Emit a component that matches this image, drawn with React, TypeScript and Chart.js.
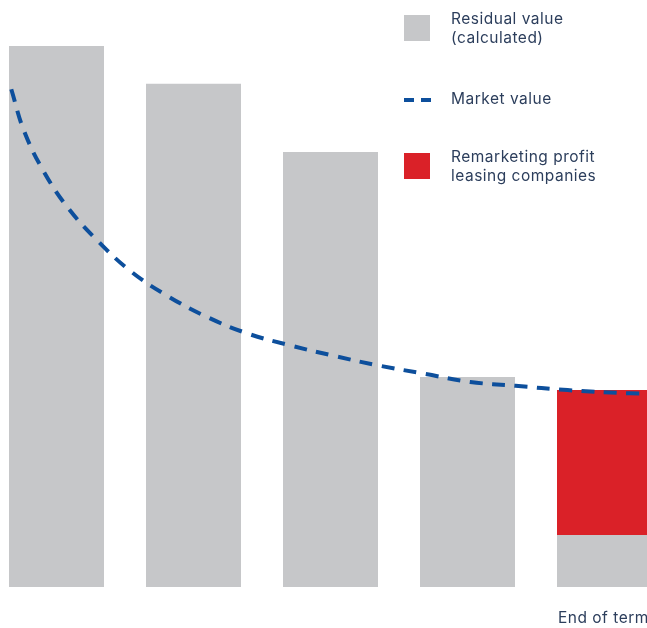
import React, { useEffect, useRef } from "react";
import { Chart, registerables } from "chart.js";

Chart.register(...registerables);

const categories = ["1", "2", "3", "4", "End of term"];
const residualValues = [100, 93.0, 80.4, 38.8, 9.6];
const remarketingProfit = [0, 0, 0, 0, 26.8];
const marketX = [-0.33, -0.24, -0.1, 0.08, 0.3, 0.54, 0.81, 1.1, 1.39, 1.7, 2.03, 2.36, 2.69, 3.02, 3.35, 3.73, 4.19, 4.45];
const marketY = [92.0, 84.5, 77.1, 70.2, 64.0, 58.4, 53.8, 49.9, 46.9, 44.7, 42.7, 40.9, 39.4, 37.9, 37.2, 36.4, 35.8, 35.8];

const GRAY = "#c6c7c9";
const RED = "#da2128";
const BLUE = "#0d4f9c";
const TEXT = "#2c3e5c";
const FONT = "Inter, 'Open Sans', sans-serif";

export default function App() {
  const ref = useRef<HTMLCanvasElement | null>(null);

  useEffect(() => {
    if (!ref.current) return;
    const chart = new Chart(ref.current, {
      type: "bar",
      data: {
        labels: categories,
        datasets: [
          {
            type: "line",
            label: "Market value",
            data: marketX.map((x, i) => ({ x, y: marketY[i] })),
            xAxisID: "x2",
            yAxisID: "y",
            borderColor: BLUE,
            borderWidth: 4,
            borderDash: [13, 9.4],
            borderCapStyle: "butt",
            pointRadius: 0,
            tension: 0.4,
            fill: false,
            clip: false,
            order: 0,
          } as any,
          {
            label: "Residual value (calculated)",
            data: residualValues,
            backgroundColor: GRAY,
            borderWidth: 0,
            barPercentage: 95 / 137,
            categoryPercentage: 1,
            grouped: false,
            order: 2,
          },
          {
            label: "Remarketing profit leasing companies",
            data: remarketingProfit.map((p, i) => (p > 0 ? [residualValues[i], residualValues[i] + p] : null)),
            backgroundColor: RED,
            borderWidth: 0,
            barPercentage: 95 / 137,
            categoryPercentage: 1,
            grouped: false,
            order: 1,
          } as any,
        ],
      },
      options: {
        responsive: false,
        animation: false,
        maintainAspectRatio: false,
        layout: { padding: { top: 46, bottom: 41, left: 0, right: 0 } },
        plugins: { legend: { display: false }, tooltip: { enabled: false } },
        scales: {
          x: { type: "category", display: false, offset: true },
          x2: { type: "linear", display: false, min: -0.5, max: 4.5, offset: false, grid: { offset: false } },
          y: { display: false, min: 0, max: 100 },
        },
      },
    });
    return () => chart.destroy();
  }, []);

  const textStyle: React.CSSProperties = {
    position: "absolute",
    left: 451,
    fontFamily: FONT,
    fontSize: 15.5,
    letterSpacing: "0.5px",
    lineHeight: "18.5px",
    color: TEXT,
    whiteSpace: "nowrap",
  };

  return (
    <div
      style={{
        position: "fixed",
        left: 0,
        top: 0,
        width: 647,
        height: 628,
        overflow: "hidden",
        background: "#fff",
      }}
    >
      <canvas
        ref={ref}
        width={685}
        height={628}
        style={{ position: "absolute", left: -12, top: 0, width: 685, height: 628 }}
      />
      <div style={{ position: "absolute", left: 404, top: 15, width: 26, height: 26, background: GRAY }} />
      <div style={{ ...textStyle, top: 10 }}>
        Residual value
        <br />
        (calculated)
      </div>
      <div style={{ position: "absolute", left: 404, top: 97.5, width: 10, height: 4, background: BLUE }} />
      <div style={{ position: "absolute", left: 421, top: 97.5, width: 10, height: 4, background: BLUE }} />
      <div style={{ ...textStyle, top: 89.5 }}>Market value</div>
      <div style={{ position: "absolute", left: 404, top: 153, width: 26, height: 26, background: RED }} />
      <div style={{ ...textStyle, top: 146.5, lineHeight: "19px" }}>
        Remarketing profit
        <br />
        leasing companies
      </div>
      <div style={{ ...textStyle, left: 558, top: 609, lineHeight: "18px" }}>End of term</div>
    </div>
  );
}
